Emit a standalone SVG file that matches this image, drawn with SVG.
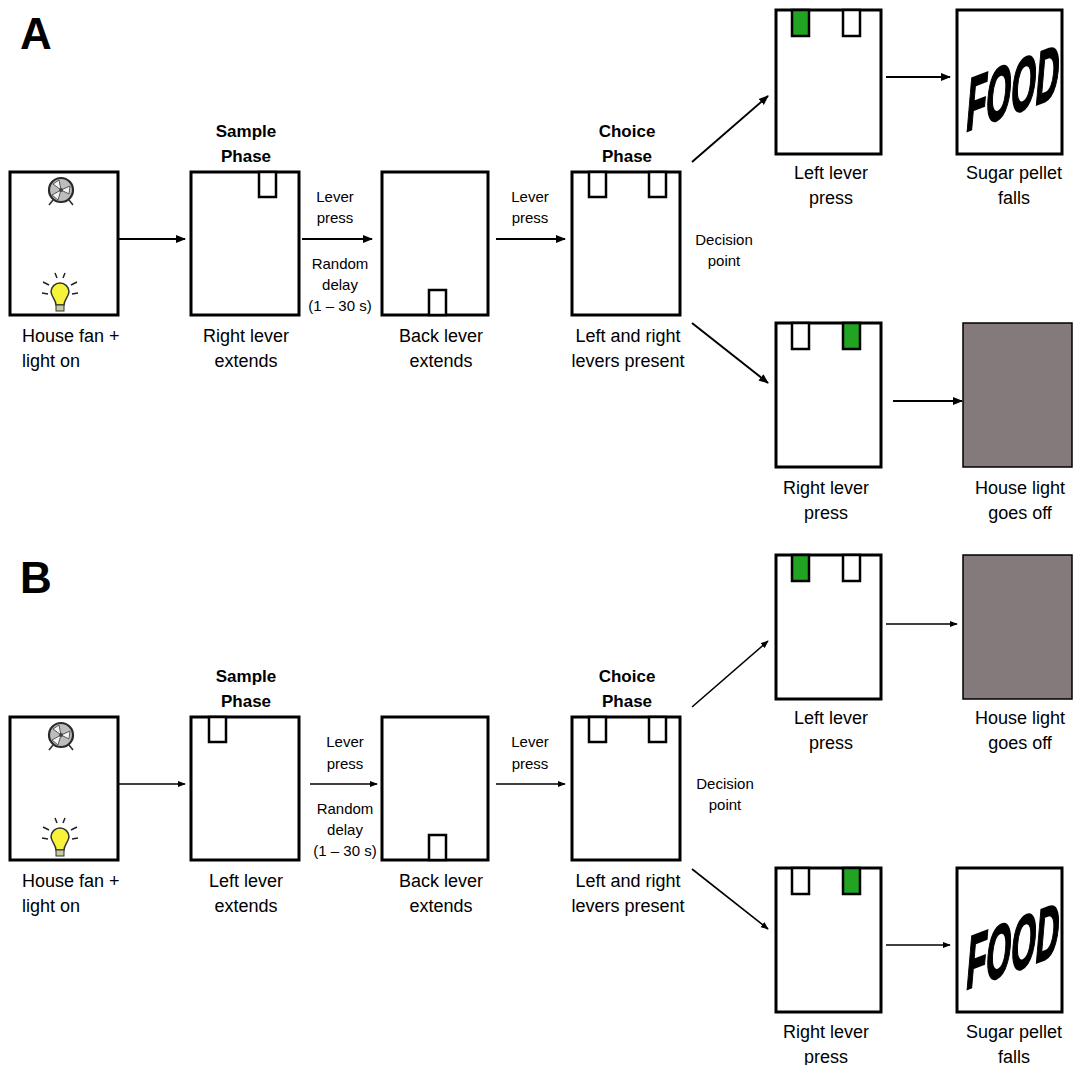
<svg xmlns="http://www.w3.org/2000/svg" width="1077" height="1065" viewBox="0 0 1077 1065">
<defs>
  <style>
    .box{fill:#fff;stroke:#000;stroke-width:3}
    .lev{fill:#fff;stroke:#000;stroke-width:2.5}
    .on{fill:#22a322;stroke:#000;stroke-width:2.5}
    .dark{fill:#847a7c;stroke:#000;stroke-width:1.5}
    .conn{stroke:#000;stroke-width:2;fill:none;marker-end:url(#ah)}
    .connB{stroke:#000;stroke-width:1.6;fill:none;marker-end:url(#ah)}
    text{font-family:"Liberation Sans",Arial,sans-serif;fill:#000}
    .lbl{font-size:18px;text-anchor:middle}
    .lbll{font-size:18px}
    .ph{font-size:17px;font-weight:bold;text-anchor:middle}
    .sm{font-size:15px;text-anchor:middle}
    .panel{font-size:44px;font-weight:bold}
    .food{font-size:40px;font-weight:bold;stroke:#000;stroke-width:1.2}
  </style>
  <marker id="ah" viewBox="0 0 10 10" refX="9" refY="5" markerWidth="5" markerHeight="5" orient="auto" markerUnits="strokeWidth">
    <path d="M0,1 L10,5 L0,9 z" fill="#000"/>
  </marker>
  <!-- fan icon -->
  <g id="fan">
    <circle cx="0" cy="0" r="12" fill="#bdbdbd" stroke="#2a2a2a" stroke-width="2.2"/>
    <path d="M0,0 L-8,-6 L-2,-10 z M0,0 L9,-4 L8,4 z M0,0 L-3,10 L-9,5 z" fill="#f4f4f4" stroke="#555" stroke-width="1"/>
    <circle cx="0" cy="0" r="2" fill="#444"/>
    <path d="M-8,10 L-12,15 M8,10 L12,15" stroke="#333" stroke-width="1.6"/>
  </g>
  <!-- light bulb icon -->
  <g id="bulb">
    <path d="M-9,-3 A9,9 0 1 1 9,-3 C8,3 4,5 4,10 L-4,10 C-4,5 -8,3 -9,-3 z" fill="#f7f23a" stroke="#333" stroke-width="1.5"/>
    <rect x="-4" y="10" width="8" height="6" fill="#c8c8a0" stroke="#333" stroke-width="1"/>
    <path d="M-3,-17 L-5,-22 M3,-17 L5,-22 M-11,-10 L-17,-13 M11,-10 L17,-13 M-12,-1 L-18,-2 M12,-1 L18,-2" stroke="#222" stroke-width="1.5"/>
  </g>
  <!-- food card lettering -->
  <g id="foodtxt">
    <text class="food" transform="translate(965,132) skewY(-21) skewX(-5) scale(0.8,1.85)">FOOD</text>
  </g>
</defs>
<rect width="1077" height="1065" fill="#fff"/>

<!-- ===== Panel A ===== -->
<text class="panel" x="20" y="49">A</text>

<g id="a-start">
  <rect class="box" x="10" y="172" width="108" height="143"/>
  <use href="#fan" x="61" y="190"/>
  <use href="#bulb" x="60" y="295"/>
  <text class="lbll" x="22" y="342">House fan +</text>
  <text class="lbll" x="22" y="367">light on</text>
</g>
<g id="a-sample">
  <text class="ph" x="246" y="137">Sample</text>
  <text class="ph" x="246" y="162">Phase</text>
  <rect class="box" x="191" y="172" width="108" height="143"/>
  <rect class="lev" x="259" y="172" width="17" height="25"/>
  <text class="lbl" x="246" y="342">Right lever</text>
  <text class="lbl" x="246" y="367">extends</text>
</g>
<g id="a-back">
  <rect class="box" x="382" y="172" width="106" height="143"/>
  <rect class="lev" x="429" y="290" width="17" height="25"/>
  <text class="lbl" x="441" y="342">Back lever</text>
  <text class="lbl" x="441" y="367">extends</text>
</g>
<g id="a-choice">
  <text class="ph" x="627" y="137">Choice</text>
  <text class="ph" x="627" y="162">Phase</text>
  <rect class="box" x="572" y="172" width="108" height="143"/>
  <rect class="lev" x="589" y="172" width="17" height="25"/>
  <rect class="lev" x="649" y="172" width="17" height="25"/>
  <text class="lbl" x="628" y="342">Left and right</text>
  <text class="lbl" x="628" y="367">levers present</text>
</g>
<g id="a-leftpress">
  <rect class="box" x="776" y="10" width="105" height="144"/>
  <rect class="on" x="792" y="10" width="17" height="26"/>
  <rect class="lev" x="843" y="10" width="17" height="26"/>
  <text class="lbl" x="831" y="179">Left lever</text>
  <text class="lbl" x="831" y="204">press</text>
</g>
<g id="a-food">
  <rect class="box" x="957" y="10" width="105" height="144"/>
  <use href="#foodtxt"/>
  <text class="lbl" x="1014" y="179">Sugar pellet</text>
  <text class="lbl" x="1014" y="204">falls</text>
</g>
<g id="a-rightpress">
  <rect class="box" x="776" y="323" width="105" height="144"/>
  <rect class="lev" x="792" y="323" width="17" height="26"/>
  <rect class="on" x="843" y="323" width="17" height="26"/>
  <text class="lbl" x="826" y="494">Right lever</text>
  <text class="lbl" x="826" y="519">press</text>
</g>
<g id="a-dark">
  <rect class="dark" x="963" y="323" width="109" height="144"/>
  <text class="lbl" x="1020" y="494">House light</text>
  <text class="lbl" x="1020" y="519">goes off</text>
</g>

<g id="a-connectors">
  <line class="conn" x1="118" y1="239" x2="185" y2="239"/>
  <line class="conn" x1="302" y1="239" x2="372" y2="239"/>
  <line class="conn" x1="496" y1="239" x2="565" y2="239"/>
  <line class="conn" x1="692" y1="162" x2="768" y2="96"/>
  <line class="conn" x1="692" y1="323" x2="768" y2="383"/>
  <line class="conn" x1="886" y1="77" x2="950" y2="77"/>
  <line class="conn" x1="893" y1="401" x2="962" y2="401"/>
  <text class="sm" x="335" y="202">Lever</text>
  <text class="sm" x="335" y="223">press</text>
  <text class="sm" x="340" y="269">Random</text>
  <text class="sm" x="340" y="290">delay</text>
  <text class="sm" x="340" y="311">(1 – 30 s)</text>
  <text class="sm" x="530" y="202">Lever</text>
  <text class="sm" x="530" y="223">press</text>
  <text class="sm" x="724" y="245">Decision</text>
  <text class="sm" x="724" y="266">point</text>
</g>

<!-- ===== Panel B ===== -->
<text class="panel" x="20" y="593">B</text>

<g id="b-start">
  <rect class="box" x="10" y="717" width="108" height="143"/>
  <use href="#fan" x="61" y="735"/>
  <use href="#bulb" x="60" y="840"/>
  <text class="lbll" x="22" y="887">House fan +</text>
  <text class="lbll" x="22" y="912">light on</text>
</g>
<g id="b-sample">
  <text class="ph" x="246" y="682">Sample</text>
  <text class="ph" x="246" y="707">Phase</text>
  <rect class="box" x="191" y="717" width="108" height="143"/>
  <rect class="lev" x="209" y="717" width="17" height="25"/>
  <text class="lbl" x="246" y="887">Left lever</text>
  <text class="lbl" x="246" y="912">extends</text>
</g>
<g id="b-back">
  <rect class="box" x="382" y="717" width="106" height="143"/>
  <rect class="lev" x="429" y="835" width="17" height="25"/>
  <text class="lbl" x="441" y="887">Back lever</text>
  <text class="lbl" x="441" y="912">extends</text>
</g>
<g id="b-choice">
  <text class="ph" x="627" y="682">Choice</text>
  <text class="ph" x="627" y="707">Phase</text>
  <rect class="box" x="572" y="717" width="108" height="143"/>
  <rect class="lev" x="589" y="717" width="17" height="25"/>
  <rect class="lev" x="649" y="717" width="17" height="25"/>
  <text class="lbl" x="628" y="887">Left and right</text>
  <text class="lbl" x="628" y="912">levers present</text>
</g>
<g id="b-leftpress">
  <rect class="box" x="776" y="555" width="105" height="144"/>
  <rect class="on" x="792" y="555" width="17" height="26"/>
  <rect class="lev" x="843" y="555" width="17" height="26"/>
  <text class="lbl" x="831" y="724">Left lever</text>
  <text class="lbl" x="831" y="749">press</text>
</g>
<g id="b-dark">
  <rect class="dark" x="963" y="555" width="109" height="144"/>
  <text class="lbl" x="1020" y="724">House light</text>
  <text class="lbl" x="1020" y="749">goes off</text>
</g>
<g id="b-rightpress">
  <rect class="box" x="776" y="868" width="105" height="144"/>
  <rect class="lev" x="792" y="868" width="17" height="26"/>
  <rect class="on" x="843" y="868" width="17" height="26"/>
  <text class="lbl" x="826" y="1038">Right lever</text>
  <text class="lbl" x="826" y="1063">press</text>
</g>
<g id="b-food">
  <rect class="box" x="957" y="868" width="105" height="144"/>
  <use href="#foodtxt" y="858"/>
  <text class="lbl" x="1014" y="1038">Sugar pellet</text>
  <text class="lbl" x="1014" y="1063">falls</text>
</g>

<g id="b-connectors">
  <line class="connB" x1="118" y1="784" x2="185" y2="784"/>
  <line class="connB" x1="310" y1="784" x2="377" y2="784"/>
  <line class="connB" x1="496" y1="784" x2="565" y2="784"/>
  <line class="connB" x1="692" y1="707" x2="768" y2="641"/>
  <line class="connB" x1="692" y1="869" x2="768" y2="929"/>
  <line class="connB" x1="886" y1="624" x2="957" y2="624"/>
  <line class="connB" x1="886" y1="945" x2="950" y2="945"/>
  <text class="sm" x="345" y="747">Lever</text>
  <text class="sm" x="345" y="769">press</text>
  <text class="sm" x="345" y="814">Random</text>
  <text class="sm" x="345" y="835">delay</text>
  <text class="sm" x="345" y="856">(1 – 30 s)</text>
  <text class="sm" x="530" y="747">Lever</text>
  <text class="sm" x="530" y="769">press</text>
  <text class="sm" x="725" y="789">Decision</text>
  <text class="sm" x="725" y="810">point</text>
</g>
</svg>
